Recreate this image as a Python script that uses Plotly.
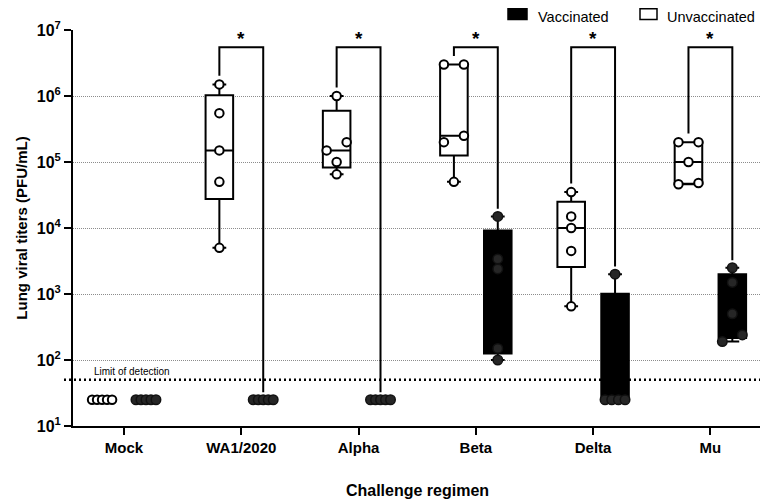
import numpy as np
import plotly.graph_objects as go

# ---------------- data ----------------
categories = ["Mock", "WA1/2020", "Alpha", "Beta", "Delta", "Mu"]
unvaccinated = [
    [25, 25, 25, 25, 25],
    [1.5e6, 5.5e5, 1.5e5, 5e4, 5e3],
    [1e6, 2e5, 1.5e5, 1e5, 6.5e4],
    [3e6, 3e6, 2.5e5, 2e5, 5e4],
    [3.5e4, 1.5e4, 1e4, 4.5e3, 650],
    [2e5, 2e5, 1e5, 4.8e4, 4.6e4],
]
vaccinated = [
    [25, 25, 25, 25, 25],
    [25, 25, 25, 25, 25],
    [25, 25, 25, 25, 25],
    [1.5e4, 3400, 2400, 150, 100],
    [2000, 25, 25, 25, 25],
    [2500, 1500, 500, 240, 190],
]
significance = ["", "*", "*", "*", "*", "*"]
limit_of_detection = 50
legend_labels = ["Vaccinated", "Unvaccinated"]
y_tick_values = [1e1, 1e2, 1e3, 1e4, 1e5, 1e6, 1e7]
y_tick_labels = ["<b>10<sup>%d</sup></b>" % int(np.log10(v)) for v in y_tick_values]

# ---------------- layout constants ----------------
# page body has an 8px margin, so the figure is shrunk/offset to compensate
W, H = 760, 493
ML, MR, MT, MB = 65, 6, 22, 75
XR = [-0.435, 5.44]
YR = [1, 7]
PLOT_W = W - ML - MR
PLOT_H = H - MT - MB
PX_PER_X = PLOT_W / (XR[1] - XR[0])
GROUP_OFF = 0.187
BOX_W = 0.235
BRACKET_TOP = 5.5e6
FONT = "Arial, Liberation Sans, Helvetica, sans-serif"


def px_x(px):
    return (px - ML) / PLOT_W


def px_y(py):
    return 1 + (MT - py) / PLOT_H


def swarm(values, center, thr_dec=0.13, span_px=20):
    """Simple beeswarm: spread points whose values nearly coincide."""
    vals = np.asarray(values, float)
    logs = np.log10(vals)
    order = np.argsort(logs)
    xs = np.zeros(len(vals))
    clusters, cur = [], [order[0]]
    for a, b in zip(order[:-1], order[1:]):
        if logs[b] - logs[a] < thr_dec:
            cur.append(b)
        else:
            clusters.append(cur)
            cur = [b]
    clusters.append(cur)
    for cl in clusters:
        k = len(cl)
        offs = [0.0] if k == 1 else np.linspace(-span_px / 2, span_px / 2, k)
        for idx, o in zip(cl, offs):
            xs[idx] = center + o / PX_PER_X
    return xs, vals


fig = go.Figure()

# boxes
for data, sign, fill, name in [(unvaccinated, -1, "white", legend_labels[1]),
                               (vaccinated, 1, "black", legend_labels[0])]:
    bx, by = [], []
    for i, vals in enumerate(data):
        bx += [i + sign * GROUP_OFF] * len(vals)
        by += list(vals)
    fig.add_trace(go.Box(
        x=bx, y=by, width=BOX_W, boxpoints=False, quartilemethod="exclusive",
        fillcolor=fill, line=dict(color="black", width=2), whiskerwidth=0.5,
        name=name, showlegend=False, hoverinfo="skip"))

# significance brackets
for i, s in enumerate(significance):
    if not s:
        continue
    xl, xr = i - GROUP_OFF, i + GROUP_OFF
    yl = max(unvaccinated[i]) * 1.35
    yr = max(vaccinated[i]) * 1.3
    fig.add_trace(go.Scatter(
        x=[xl, xl, xr, xr], y=[yl, BRACKET_TOP, BRACKET_TOP, yr], mode="lines",
        line=dict(color="black", width=2), showlegend=False, hoverinfo="skip"))
    fig.add_annotation(x=i, y=np.log10(BRACKET_TOP), text="<b>%s</b>" % s,
                       showarrow=False, yanchor="bottom", yshift=-4,
                       font=dict(size=19, color="black", family=FONT))

# points
for i in range(len(categories)):
    xs, ys = swarm(unvaccinated[i], i - GROUP_OFF)
    fig.add_trace(go.Scatter(
        x=xs, y=ys, mode="markers", showlegend=False, hoverinfo="skip",
        marker=dict(size=8.5, color="white", line=dict(color="black", width=2))))
    xs, ys = swarm(vaccinated[i], i + GROUP_OFF)
    fig.add_trace(go.Scatter(
        x=xs, y=ys, mode="markers", showlegend=False, hoverinfo="skip",
        marker=dict(size=9.5, color="#262626", line=dict(color="#111111", width=1.5))))

# legend (drawn in the top margin)
legend_items = [(legend_labels[0], "black", 500, 519, 529),
                (legend_labels[1], "white", 632, 649, 658)]
for label, fill, sx0, sx1, tx in legend_items:
    fig.add_shape(type="rect", xref="paper", yref="paper",
                  x0=px_x(sx0), x1=px_x(sx1), y0=px_y(11.5), y1=px_y(0.8),
                  fillcolor=fill, line=dict(color="black", width=1.5))
    fig.add_annotation(xref="paper", yref="paper", x=px_x(tx), y=px_y(0),
                       text=label, showarrow=False, xanchor="left", yanchor="top",
                       borderpad=0, yshift=0,
                       font=dict(size=14.5, color="black", family=FONT))

# limit of detection line and label
lod_paper = (np.log10(limit_of_detection) - YR[0]) / (YR[1] - YR[0])
fig.add_shape(type="line", xref="paper", yref="paper", x0=-9 / PLOT_W, x1=1,
              y0=lod_paper, y1=lod_paper,
              line=dict(color="black", width=2.5, dash="2px,3px"))
fig.add_annotation(xref="paper", x=19 / PLOT_W, y=np.log10(limit_of_detection),
                   text="Limit of detection", showarrow=False, xanchor="left",
                   yanchor="bottom", yshift=1,
                   font=dict(size=10, color="black", family=FONT))

fig.update_layout(
    width=W, height=H, margin=dict(l=ML, r=MR, t=MT, b=MB, autoexpand=False),
    plot_bgcolor="white", paper_bgcolor="white", boxmode="overlay",
    font=dict(family=FONT, color="black"), showlegend=False,
    xaxis=dict(range=XR, tickvals=list(range(len(categories))),
               ticktext=["<b>%s</b>" % c for c in categories],
               tickfont=dict(size=15, family=FONT), ticks="outside", ticklen=7,
               tickwidth=2, tickcolor="black", showline=True, linewidth=2,
               linecolor="black", showgrid=False, zeroline=False, automargin=False,
               title=dict(text="<b>Challenge regimen</b>", font=dict(size=16, family=FONT),
                          standoff=30)),
    yaxis=dict(type="log", range=YR, tickvals=y_tick_values, ticktext=y_tick_labels,
               tickfont=dict(size=16, family=FONT), ticks="outside", ticklen=7,
               tickwidth=2, tickcolor="black", showline=True, linewidth=2,
               linecolor="black", showgrid=True, gridcolor="#8c8c8c", gridwidth=1,
               griddash="1px,1px", zeroline=False, automargin=False,
               title=dict(text="<b>Lung viral titers (PFU/mL)</b>",
                          font=dict(size=15, family=FONT), standoff=6)),
)

fig.write_html("out.html")
